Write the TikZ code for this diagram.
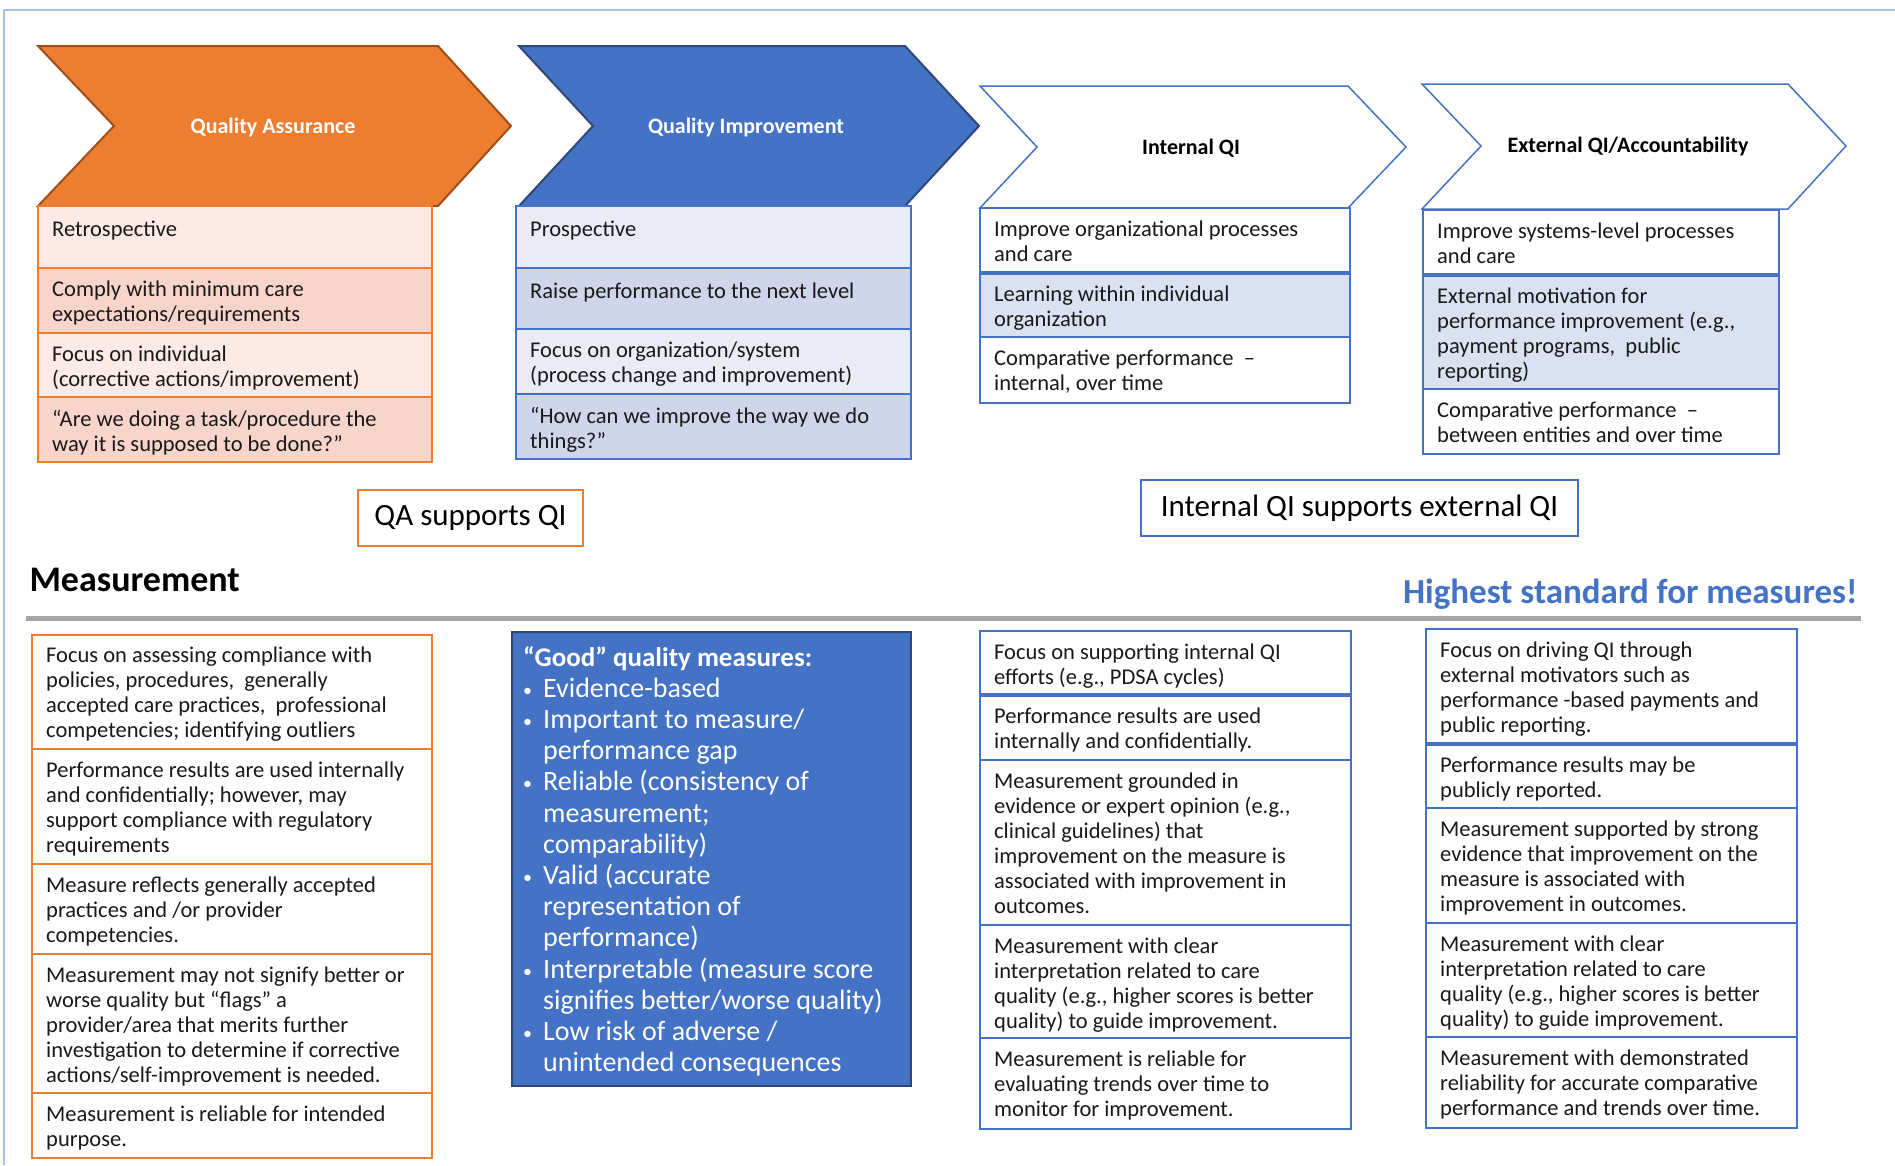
\documentclass[tikz,border=0pt]{standalone}
\usepackage{fontspec}
\setmainfont{Carlito}
\usepackage{xcolor}
\usepackage{tikz}

\definecolor{qaorange}{HTML}{ED7D31}
\definecolor{qaedge}{HTML}{9E4E17}
\definecolor{qaA}{HTML}{FBEAE5}
\definecolor{qaB}{HTML}{F8D5CB}
\definecolor{qiblue}{HTML}{4472C4}
\definecolor{qiedge}{HTML}{2F4778}
\definecolor{qiA}{HTML}{E9ECF5}
\definecolor{qiB}{HTML}{CFD5EA}
\definecolor{inA}{HTML}{DAE2F2}
\definecolor{framecol}{HTML}{A9C2E6}
\definecolor{rulegray}{HTML}{A6A6A6}

\newcommand{\cellfont}{\fontsize{22.5}{25}\selectfont}
\newcommand{\gbul}{\makebox[20pt][l]{\raisebox{1pt}{\fontsize{18}{31.2}\selectfont\textbullet}}}
\newcommand{\gind}{\hspace*{20pt}}

\begin{document}
\begin{tikzpicture}[x=1pt,y=-1pt]
    \tikzset{
      qachev/.style={fill=qaorange,draw=qaedge,line width=2pt},
      qichev/.style={fill=qiblue,draw=qiedge,line width=2pt},
      outchev/.style={fill=white,draw=qiblue,line width=1.5pt},
      chevtext/.style={font=\fontsize{22}{26}\selectfont\bfseries},
      qarow/.style={draw=qaorange,line width=2pt},
      qirow/.style={draw=qiblue,line width=2pt},
      celltext/.style={anchor=north west,inner sep=0pt,align=left,yshift=-3pt,
        font=\cellfont,text=black!90,execute at begin node=\strut},
      thicksep/.style={draw=qiblue,line width=4.5pt},
      supportbox/.style={fill=white,line width=2pt,minimum height=56pt,
        font=\fontsize{31}{36}\selectfont}
    }
    \useasboundingbox (0,0) rectangle (1895,1165);
    \draw[framecol,line width=2pt] (4,1165) -- (4,10) -- (1895,10);

    \draw[qachev] (38,46) -- (438,46) -- (511,126) -- (438,206) -- (38,206) -- (114,126) -- cycle;
    \draw[qichev] (519,46) -- (905,46) -- (979,126) -- (905,206) -- (519,206) -- (593,126) -- cycle;
    \draw[outchev] (980,86) -- (1348,86) -- (1406,147) -- (1348,208) -- (980,208) -- (1037,147) -- cycle;
    \draw[outchev] (1422,84) -- (1788,84) -- (1846,146) -- (1788,209) -- (1422,209) -- (1481,146) -- cycle;

    \node[chevtext,text=white] (qa) at (273,128) {Quality Assurance};
    \node[chevtext,text=white] (qi) at (746,128) {Quality Improvement};
    \node[chevtext] (inqi) at (1191,148) {Internal QI};
    \node[chevtext] (exqi) at (1628,147) {External QI/Accountability};

    \draw[qarow,fill=qaA] (38,206) rectangle (432,268);
    \draw[qarow,fill=qaB] (38,268) rectangle (432,333);
    \draw[qarow,fill=qaA] (38,333) rectangle (432,397);
    \draw[qarow,fill=qaB] (38,397) rectangle (432,462);
    \node[celltext] (qa1) at (52,216) {Retrospective};
    \node[celltext] (qa2) at (52,278) {Comply with minimum care\\expectations/requirements};
    \node[celltext] (qa3) at (52,343) {Focus on individual\\(corrective actions/improvement)};
    \node[celltext] (qa4) at (52,407) {“Are we doing a task/procedure the\\way it is supposed to be done?”};

    \draw[qirow,fill=qiA] (516,206) rectangle (911,268);
    \draw[qirow,fill=qiB] (516,268) rectangle (911,329);
    \draw[qirow,fill=qiA] (516,329) rectangle (911,394);
    \draw[qirow,fill=qiB] (516,394) rectangle (911,459);
    \node[celltext] (qi1) at (530,216) {Prospective};
    \node[celltext] (qi2) at (530,278) {Raise performance to the next level};
    \node[celltext] (qi3) at (530,339) {Focus on organization/system\\(process change and improvement)};
    \node[celltext] (qi4) at (530,404) {“How can we improve the way we do\\things?”};

    \draw[qirow,fill=white] (980,208) rectangle (1350,273);
    \draw[qirow,fill=inA] (980,273) rectangle (1350,337);
    \draw[qirow,fill=white] (980,337) rectangle (1350,403);
    \draw[thicksep] (980,273) -- (1350,273);
    \node[celltext] (in1) at (994,218) {Improve organizational processes\\and care};
    \node[celltext] (in2) at (994,283) {Learning within individual\\organization};
    \node[celltext] (in3) at (994,347) {Comparative performance \ –\\internal, over time};

    \draw[qirow,fill=white] (1423,210) rectangle (1779,275);
    \draw[qirow,fill=inA] (1423,275) rectangle (1779,389);
    \draw[qirow,fill=white] (1423,389) rectangle (1779,454);
    \draw[thicksep] (1423,275) -- (1779,275);
    \node[celltext] (ex1) at (1437,220) {Improve systems-level processes\\and care};
    \node[celltext] (ex2) at (1437,285) {External motivation for\\performance improvement (e.g.,\\payment programs, \ public\\reporting)};
    \node[celltext] (ex3) at (1437,399) {Comparative performance \ –\\between entities and over time};

    \node[supportbox,draw=qaorange,minimum width=225pt] (qaqi) at (470.5,518) {QA supports QI};
    \node[supportbox,draw=qiblue,minimum width=437pt] (inex) at (1359.5,508) {Internal QI supports external QI};

    \node[anchor=base west,font=\fontsize{36}{40}\selectfont\bfseries] (meas) at (26,591) {Measurement};
    \node[anchor=base east,text=qiblue,font=\fontsize{35}{40}\selectfont\bfseries] (high) at (1861,603) {Highest standard for measures!};
    \draw[rulegray,line width=5pt] (26,618) -- (1861,618);

    \draw[qarow,fill=white] (32,635) rectangle (432,749);
    \draw[qarow,fill=white] (32,749) rectangle (432,864);
    \draw[qarow,fill=white] (32,864) rectangle (432,954);
    \draw[qarow,fill=white] (32,954) rectangle (432,1093);
    \draw[qarow,fill=white] (32,1093) rectangle (432,1158);
    \node[celltext] (qm1) at (46,644) {Focus on assessing compliance with\\policies, procedures, \ generally\\accepted care practices, \ professional\\competencies; identifying outliers};
    \node[celltext] (qm2) at (46,759) {Performance results are used internally\\and confidentially; however, may\\support compliance with regulatory\\requirements};
    \node[celltext] (qm3) at (46,874) {Measure reflects generally accepted\\practices and /or provider\\competencies.};
    \node[celltext] (qm4) at (46,964) {Measurement may not signify better or\\worse quality but “flags” a\\provider/area that merits further\\investigation to determine if corrective\\actions/self-improvement is needed.};
    \node[celltext] (qm5) at (46,1103) {Measurement is reliable for intended\\purpose.};

    \draw[fill=qiblue,draw=qiedge,line width=2.5pt] (512,632) rectangle (911,1086);
    \node[anchor=north west,inner sep=0pt,align=left,text=white,
      font=\fontsize{28}{31.2}\selectfont,execute at begin node=\strut] (good) at (523,646)
      {{\bfseries\fontsize{27}{31.2}\selectfont “Good” quality measures:}\\
       \gbul Evidence-based\\
       \gbul Important to measure/\\
       \gind performance gap\\
       \gbul Reliable (consistency of\\
       \gind measurement;\\
       \gind comparability)\\
       \gbul Valid (accurate\\
       \gind representation of\\
       \gind performance)\\
       \gbul Interpretable (measure score\\
       \gind signifies better/worse quality)\\
       \gbul Low risk of adverse /\\
       \gind unintended consequences};

    \draw[qirow,fill=white] (980,631) rectangle (1351,695);
    \draw[qirow,fill=white] (980,695) rectangle (1351,760);
    \draw[qirow,fill=white] (980,760) rectangle (1351,925);
    \draw[qirow,fill=white] (980,925) rectangle (1351,1038);
    \draw[qirow,fill=white] (980,1038) rectangle (1351,1129);
    \draw[thicksep] (980,695) -- (1351,695);
    \node[celltext] (im1) at (994,641) {Focus on supporting internal QI\\efforts (e.g., PDSA cycles)};
    \node[celltext] (im2) at (994,705) {Performance results are used\\internally and confidentially.};
    \node[celltext] (im3) at (994,770) {Measurement grounded in\\evidence or expert opinion (e.g.,\\clinical guidelines) that\\improvement on the measure is\\associated with improvement in\\outcomes.};
    \node[celltext] (im4) at (994,935) {Measurement with clear\\interpretation related to care\\quality (e.g., higher scores is better\\quality) to guide improvement.};
    \node[celltext] (im5) at (994,1048) {Measurement is reliable for\\evaluating trends over time to\\monitor for improvement.};

    \draw[qirow,fill=white] (1426,629) rectangle (1797,744);
    \draw[qirow,fill=white] (1426,744) rectangle (1797,808);
    \draw[qirow,fill=white] (1426,808) rectangle (1797,923);
    \draw[qirow,fill=white] (1426,923) rectangle (1797,1037);
    \draw[qirow,fill=white] (1426,1037) rectangle (1797,1128);
    \draw[thicksep] (1426,744) -- (1797,744);
    \node[celltext] (em1) at (1440,639) {Focus on driving QI through\\external motivators such as\\performance -based payments and\\public reporting.};
    \node[celltext] (em2) at (1440,754) {Performance results may be\\publicly reported.};
    \node[celltext] (em3) at (1440,818) {Measurement supported by strong\\evidence that improvement on the\\measure is associated with\\improvement in outcomes.};
    \node[celltext] (em4) at (1440,933) {Measurement with clear\\interpretation related to care\\quality (e.g., higher scores is better\\quality) to guide improvement.};
    \node[celltext] (em5) at (1440,1047) {Measurement with demonstrated\\reliability for accurate comparative\\performance and trends over time.};

\end{tikzpicture}
\end{document}
